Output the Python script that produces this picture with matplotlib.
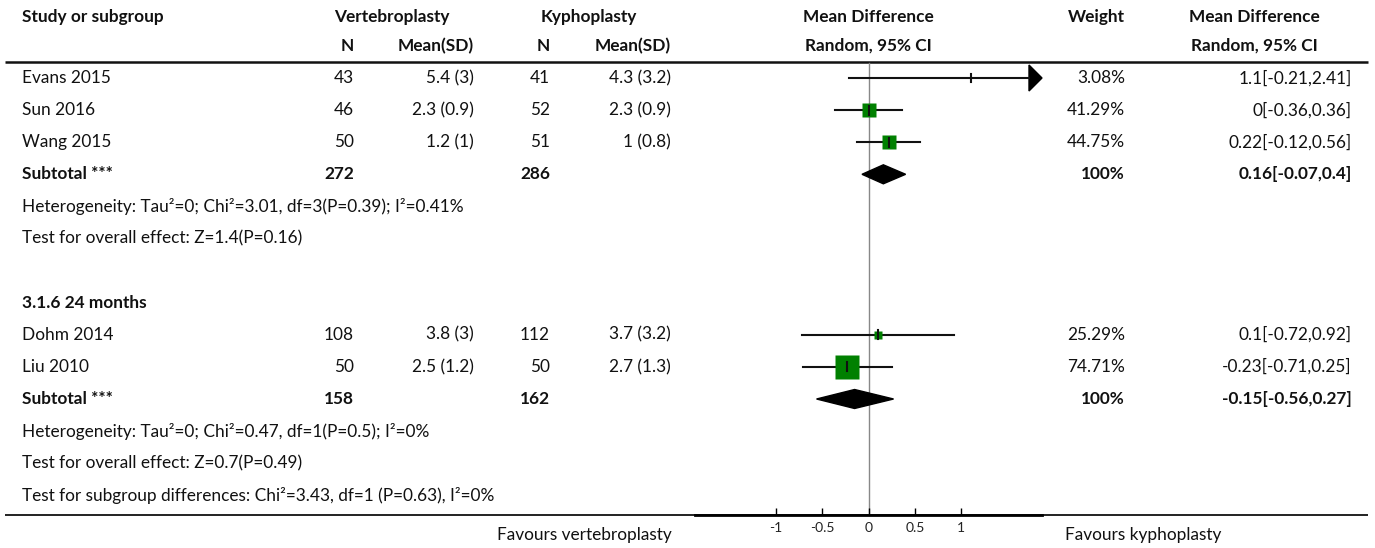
import numpy as np
from matplotlib import pyplot as plt
from matplotlib.patches import Polygon

plt.rcParams['font.family'] = ['Lato', 'DejaVu Sans']

# dados dos estudos
studies = ["Evans 2015", "Sun 2016", "Wang 2015", "Dohm 2014", "Liu 2010"]
n_vert = [43, 46, 50, 108, 50]
mean_vert = [5.4, 2.3, 1.2, 3.8, 2.5]
sd_vert = [3, 0.9, 1, 3, 1.2]
n_kyph = [41, 52, 51, 112, 50]
mean_kyph = [4.3, 2.3, 1, 3.7, 2.7]
sd_kyph = [3.2, 0.9, 0.8, 3.2, 1.3]
md = [1.1, 0, 0.22, 0.1, -0.23]
md_lo = [-0.21, -0.36, -0.12, -0.72, -0.71]
md_hi = [2.41, 0.36, 0.56, 0.92, 0.25]
weights = [3.08, 41.29, 44.75, 25.29, 74.71]

# subtotais
sub_n_vert = [272, 158]
sub_n_kyph = [286, 162]
sub_md = [0.16, -0.15]
sub_lo = [-0.07, -0.56]
sub_hi = [0.4, 0.27]
sub_weight = ["100%", "100%"]

group_title = ["", "3.1.6 24 months"]
heterog = ["Heterogeneity: Tau\u00b2=0; Chi\u00b2=3.01, df=3(P=0.39); I\u00b2=0.41%",
           "Heterogeneity: Tau\u00b2=0; Chi\u00b2=0.47, df=1(P=0.5); I\u00b2=0%"]
overall = ["Test for overall effect: Z=1.4(P=0.16)",
           "Test for overall effect: Z=0.7(P=0.49)"]
subgroup_test = "Test for subgroup differences: Chi\u00b2=3.43, df=1 (P=0.63), I\u00b2=0%"

ticks = [-1, -0.5, 0, 0.5, 1]
tick_labels = ["-1", "-0.5", "0", "0.5", "1"]
xlim = (-1.87, 1.87)

# layout (pixels -> linhas)
W, H = 1375, 548
y0, dy = 78, 32.1
def row(py):
    return (py - y0) / dy

fig = plt.figure(figsize=(W / 100, H / 100), dpi=100)
ax = fig.add_axes([0, 0, 1, 1])
ax.set_xlim(0, W)
ax.set_ylim(row(H), row(0))
ax.axis('off')

fx0, fx1 = 695, 1042
fax = fig.add_axes([fx0 / W, 0, (fx1 - fx0) / W, 1])
fax.set_xlim(*xlim)
fax.set_ylim(row(H), row(0))
fax.patch.set_alpha(0)
for s in ['top', 'left', 'right']:
    fax.spines[s].set_visible(False)
fax.spines['bottom'].set_position(('data', row(515)))
fax.spines['bottom'].set_linewidth(2)
fax.set_yticks([])
fax.set_xticks(ticks)
fax.set_xticklabels(tick_labels, fontsize=10, color='#222222')
fax.tick_params(axis='x', direction='in', length=5, width=1, pad=5)

fs = 12.4
C = '#111111'
kw = dict(fontsize=fs, color=C, va='center')

# cabecalho
hr1, hr2 = row(17), row(46)
ax.text(22, hr1, "Study or subgroup", weight='bold', ha='left', **kw)
ax.text(392, hr1, "Vertebroplasty", weight='bold', ha='center', **kw)
ax.text(589, hr1, "Kyphoplasty", weight='bold', ha='center', **kw)
ax.text(868, hr1, "Mean Difference", weight='bold', ha='center', **kw)
ax.text(1125, hr1, "Weight", weight='bold', ha='right', **kw)
ax.text(1254, hr1, "Mean Difference", weight='bold', ha='center', **kw)
ax.text(354, hr2, "N", weight='bold', ha='right', **kw)
ax.text(474, hr2, "Mean(SD)", weight='bold', ha='right', **kw)
ax.text(550, hr2, "N", weight='bold', ha='right', **kw)
ax.text(671, hr2, "Mean(SD)", weight='bold', ha='right', **kw)
ax.text(868, hr2, "Random, 95% CI", weight='bold', ha='center', **kw)
ax.text(1254, hr2, "Random, 95% CI", weight='bold', ha='center', **kw)
ax.plot([5, 1368], [row(62), row(62)], color=C, lw=1.8, solid_capstyle='butt')
ax.plot([5, 1368], [row(515), row(515)], color=C, lw=1.3, solid_capstyle='butt')

fax.plot([0, 0], [row(63), row(515)], color='#888888', lw=1, zorder=1)

study_rows = [0, 1, 2, 8, 9]
sub_rows = [3, 10]
title_rows = [None, 7]

px_per_unit = (fx1 - fx0) / (xlim[1] - xlim[0])
for i, r in enumerate(study_rows):
    ax.text(22, r, studies[i], ha='left', **kw)
    ax.text(354, r, f"{n_vert[i]}", ha='right', **kw)
    ax.text(474, r, f"{mean_vert[i]:g} ({sd_vert[i]:g})", ha='right', **kw)
    ax.text(550, r, f"{n_kyph[i]}", ha='right', **kw)
    ax.text(671, r, f"{mean_kyph[i]:g} ({sd_kyph[i]:g})", ha='right', **kw)
    ax.text(1125, r, f"{weights[i]:.2f}%", ha='right', **kw)
    ax.text(1352, r, f"{md[i]:g}[{md_lo[i]:g},{md_hi[i]:g}]", ha='right', **kw)

    hi = md_hi[i]
    if hi > xlim[1]:
        # seta quando o IC passa do limite
        aw = 13 / px_per_unit
        ah = 13 / dy
        fax.plot([md_lo[i], xlim[1] - aw], [r, r], color=C, lw=1.5)
        fax.add_patch(Polygon([[xlim[1] - aw, r - ah], [xlim[1], r], [xlim[1] - aw, r + ah]],
                              closed=True, color='black', clip_on=False))
    else:
        fax.plot([md_lo[i], hi], [r, r], color=C, lw=1.5)
    fax.plot(md[i], r, marker='s', ms=0.24 * weights[i], color='#008000', mec='none', zorder=3)
    fax.plot([md[i], md[i]], [r - 0.14, r + 0.14], color=C, lw=1.5, zorder=4)

for g in range(2):
    r = sub_rows[g]
    if title_rows[g] is not None:
        ax.text(22, title_rows[g], group_title[g], ha='left', weight='bold', **kw)
    ax.text(22, r, "Subtotal ***", ha='left', weight='bold', **kw)
    ax.text(354, r, f"{sub_n_vert[g]}", ha='right', weight='bold', **kw)
    ax.text(550, r, f"{sub_n_kyph[g]}", ha='right', weight='bold', **kw)
    ax.text(1125, r, sub_weight[g], ha='right', weight='bold', **kw)
    ax.text(1352, r, f"{sub_md[g]:g}[{sub_lo[g]:g},{sub_hi[g]:g}]", ha='right', weight='bold', **kw)
    h = 9.5 / dy
    fax.add_patch(Polygon([[sub_lo[g], r], [sub_md[g], r - h], [sub_hi[g], r], [sub_md[g], r + h]],
                          closed=True, color='black', zorder=3))
    ax.text(22, r + 1, heterog[g], ha='left', **kw)
    ax.text(22, r + 2, overall[g], ha='left', **kw)

ax.text(22, 13, subgroup_test, ha='left', **kw)
ax.text(672, row(535), "Favours vertebroplasty", ha='right', **kw)
ax.text(1065, row(535), "Favours kyphoplasty", ha='left', **kw)

plt.savefig("out.png", dpi=100)
